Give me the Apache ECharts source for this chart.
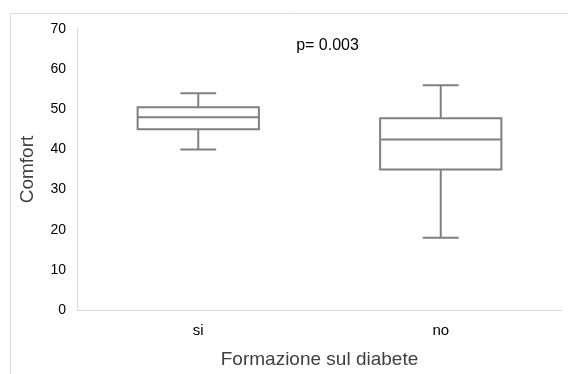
<!DOCTYPE html>
<html>
<head>
<meta charset="utf-8">
<script src="https://cdn.jsdelivr.net/npm/echarts@6/dist/echarts.min.js"></script>
<style>
html,body{margin:0;padding:0;background:#fff;}
#c{width:568px;height:374px;}
</style>
</head>
<body>
<div id="c"></div>
<script>
const categories = ['si', 'no'];
const minValues = [40, 18];
const q1Values = [45, 35];
const medianValues = [48, 42.5];
const q3Values = [50.5, 47.75];
const maxValues = [54, 56];
const yTicks = { min: 0, max: 70, interval: 10 };
const annotation = 'p= 0.003';

const data = categories.map((c, i) => [i, minValues[i], q1Values[i], medianValues[i], q3Values[i], maxValues[i]]);

const FONT = '"Liberation Sans", Arial, Helvetica, sans-serif';
const LINE = '#808080';

function renderItem(params, api) {
  const x = api.value(0);
  const band = api.size([1, 0])[0];
  const halfBox = band * 0.25;
  const halfCap = band * 0.074;
  const pMin = api.coord([x, api.value(1)]);
  const pQ1 = api.coord([x, api.value(2)]);
  const pMed = api.coord([x, api.value(3)]);
  const pQ3 = api.coord([x, api.value(4)]);
  const pMax = api.coord([x, api.value(5)]);
  const cx = pMin[0];
  const style = { stroke: LINE, lineWidth: 2, fill: null };
  return {
    type: 'group',
    children: [
      { type: 'line', shape: { x1: cx, y1: pMax[1], x2: cx, y2: pQ3[1] }, style },
      { type: 'line', shape: { x1: cx - halfCap, y1: pMax[1], x2: cx + halfCap, y2: pMax[1] }, style },
      { type: 'line', shape: { x1: cx, y1: pQ1[1], x2: cx, y2: pMin[1] }, style },
      { type: 'line', shape: { x1: cx - halfCap, y1: pMin[1], x2: cx + halfCap, y2: pMin[1] }, style },
      { type: 'rect', shape: { x: cx - halfBox, y: pQ3[1], width: halfBox * 2, height: pQ1[1] - pQ3[1] }, style: { stroke: LINE, lineWidth: 2, fill: '#fff' } },
      { type: 'line', shape: { x1: cx - halfBox, y1: pMed[1], x2: cx + halfBox, y2: pMed[1] }, style }
    ]
  };
}

const chart = echarts.init(document.getElementById('c'), null, { renderer: 'canvas' });
chart.setOption({
  animation: false,
  backgroundColor: '#fff',
  textStyle: { fontFamily: FONT },
  grid: { left: 77, right: 6, top: 29, bottom: 63, containLabel: false },
  graphic: [
    { type: 'rect', left: 8, top: 11, shape: { x: 0, y: 0, width: 620, height: 420 }, style: { fill: null, stroke: '#dcdcdc', lineWidth: 1 }, silent: true, z: -10 },
    { type: 'text', x: 327.5, y: 46, style: { text: annotation, font: '16px ' + FONT, fill: '#000', align: 'center', verticalAlign: 'middle' } }
  ],
  xAxis: {
    type: 'category',
    data: categories,
    name: 'Formazione sul diabete',
    nameLocation: 'middle',
    nameGap: 40,
    nameTextStyle: { fontSize: 19, color: '#404040', fontFamily: FONT },
    axisLine: { lineStyle: { color: '#d9d9d9', width: 1 } },
    axisTick: { show: false },
    axisLabel: { fontSize: 15, color: '#000', margin: 13, fontFamily: FONT },
    splitLine: { show: false }
  },
  yAxis: {
    type: 'value',
    min: yTicks.min,
    max: yTicks.max,
    interval: yTicks.interval,
    name: 'Comfort',
    nameLocation: 'middle',
    nameGap: 40,
    nameTextStyle: { fontSize: 19, color: '#404040', fontFamily: FONT },
    axisLine: { show: true, lineStyle: { color: '#d9d9d9', width: 1 } },
    axisTick: { show: false },
    axisLabel: { fontSize: 14, color: '#000', margin: 11, fontFamily: FONT },
    splitLine: { show: false }
  },
  series: [{
    type: 'custom',
    renderItem: renderItem,
    encode: { x: 0, y: [1, 2, 3, 4, 5] },
    data: data
  }]
});
</script>
</body>
</html>
